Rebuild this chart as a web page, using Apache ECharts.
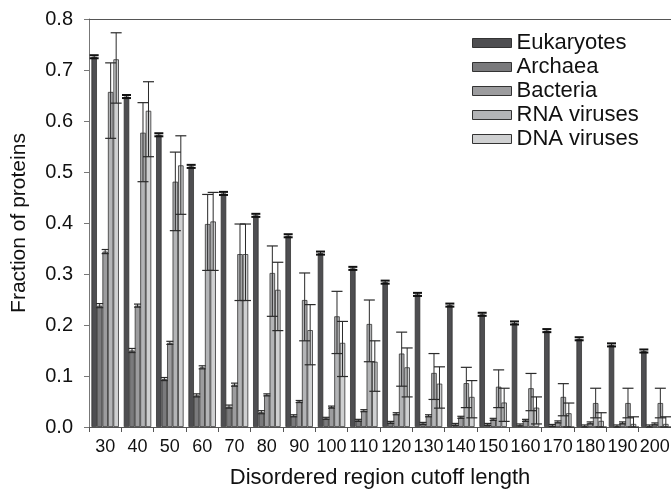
<!DOCTYPE html>
<html>
<head>
<meta charset="utf-8">
<script src="https://cdn.jsdelivr.net/npm/echarts@6/dist/echarts.min.js"></script>
<style>
html,body{margin:0;padding:0;background:#fff;}
#chart{width:671px;height:489px;}
</style>
</head>
<body>
<div id="chart"></div>
<script>
var categories = ['30','40','50','60','70','80','90','100','110','120','130','140','150','160','170','180','190','200'];
var seriesNames = ['Eukaryotes','Archaea','Bacteria','RNA viruses','DNA viruses'];
var yTicks = [0, 0.1, 0.2, 0.3, 0.4, 0.5, 0.6, 0.7, 0.8];

var eukaryotes = [0.726,0.648,0.573,0.511,0.458,0.415,0.375,0.341,0.311,0.284,0.260,0.239,0.221,0.204,0.189,0.173,0.161,0.149];
var archaea    = [0.238,0.150,0.094,0.062,0.040,0.029,0.022,0.017,0.013,0.009,0.007,0.005,0.005,0.004,0.003,0.002,0.002,0.002];
var bacteria   = [0.344,0.238,0.165,0.117,0.083,0.063,0.050,0.039,0.032,0.026,0.022,0.019,0.015,0.013,0.010,0.008,0.008,0.006];
var rnaViruses = [0.657,0.577,0.481,0.398,0.339,0.302,0.249,0.217,0.202,0.144,0.106,0.086,0.079,0.076,0.059,0.047,0.047,0.047];
var dnaViruses = [0.721,0.620,0.513,0.403,0.339,0.269,0.190,0.165,0.128,0.117,0.085,0.059,0.048,0.038,0.027,0.012,0.006,0.006];

// error bar ends (upper / lower)
var eukErr  = [0.003,0.003,0.003,0.003,0.003,0.003,0.003,0.003,0.003,0.003,0.003,0.003,0.003,0.003,0.003,0.003,0.003,0.003];
var archErr = [0.004,0.004,0.003,0.003,0.003,0.003,0.002,0.002,0.002,0.002,0.002,0.002,0.002,0.002,0.002,0.002,0.002,0.002];
var bactErr = [0.004,0.003,0.003,0.003,0.003,0.002,0.002,0.002,0.002,0.002,0.002,0.002,0.002,0.002,0.002,0.002,0.002,0.002];
var rnaUpper = [0.714,0.636,0.539,0.456,0.398,0.355,0.302,0.266,0.249,0.186,0.144,0.117,0.112,0.105,0.085,0.076,0.076,0.076];
var rnaLower = [0.566,0.481,0.385,0.307,0.248,0.217,0.169,0.144,0.128,0.080,0.054,0.038,0.038,0.032,0.022,0.018,0.018,0.018];
var dnaUpper = [0.773,0.677,0.571,0.460,0.398,0.323,0.240,0.207,0.169,0.155,0.118,0.091,0.076,0.059,0.047,0.028,0.020,0.020];
var dnaLower = [0.635,0.530,0.417,0.307,0.248,0.189,0.122,0.099,0.070,0.059,0.037,0.018,0.011,0.006,0.000,0.000,0.000,0.000];

var colors = ['#4e4e51','#7a7a7c','#9c9c9e','#b3b4b6','#cfd0d1'];
var FONT = 'Liberation Sans, Arial, Helvetica, sans-serif';
var GAP = 0.15;

var values = [eukaryotes, archaea, bacteria, rnaViruses, dnaViruses];
var errs = [
  eukaryotes.map(function(v,i){return [i, v - eukErr[i], v + eukErr[i]];}),
  archaea.map(function(v,i){return [i, v - archErr[i], v + archErr[i]];}),
  bacteria.map(function(v,i){return [i, v - bactErr[i], v + bactErr[i]];}),
  rnaViruses.map(function(v,i){return [i, rnaLower[i], rnaUpper[i]];}),
  dnaViruses.map(function(v,i){return [i, dnaLower[i], dnaUpper[i]];})
];

function makeErrRender(k){
  return function(params, api){
    var idx = api.value(0);
    var lo = api.coord([idx, api.value(1)]);
    var hi = api.coord([idx, api.value(2)]);
    var band = api.size([1,0])[0];
    var bw = band*(1-GAP)/5;
    var x = lo[0] - band*(1-GAP)/2 + bw*(k+0.5);
    var half = k === 0 ? 4.5 : (k < 3 ? 3.5 : 5.5);
    var lw = k === 0 ? 2 : 1.2;
    var col = k === 0 ? '#111' : '#2a2a2a';
    var style = {stroke: col, lineWidth: lw};
    return {type:'group', children:[
      {type:'line', shape:{x1:x, y1:lo[1], x2:x, y2:hi[1]}, style:{stroke:'#2a2a2a', lineWidth:1}},
      {type:'line', shape:{x1:x-half, y1:hi[1], x2:x+half, y2:hi[1]}, style:style},
      {type:'line', shape:{x1:x-half, y1:lo[1], x2:x+half, y2:lo[1]}, style:style}
    ]};
  };
}

var series = [];
for (var k=0;k<5;k++){
  series.push({
    name: seriesNames[k], type:'bar', data: values[k],
    barGap: '0%', barCategoryGap: (GAP*100)+'%',
    itemStyle:{color: colors[k], borderColor:'#333', borderWidth:0.8},
    emphasis:{disabled:true}, z:2
  });
}
for (var k2=0;k2<5;k2++){
  series.push({
    type:'custom', data: errs[k2], renderItem: makeErrRender(k2),
    encode:{x:0, y:[1,2]}, z:5, silent:true
  });
}

var chart = echarts.init(document.getElementById('chart'), null, {renderer:'canvas'});
chart.setOption({
  animation:false,
  backgroundColor:'#fff',
  grid:{left:89, right:0, top:19, bottom:62, containLabel:false, outerBoundsMode:'none'},
  legend:{
    data: seriesNames, orient:'vertical', left:467, top:27,
    itemWidth:39, itemHeight:9, itemGap:2, icon:'rect',
    itemStyle:{borderColor:'#333', borderWidth:1},
    textStyle:{fontFamily:FONT, fontSize:22, color:'#111', padding:[0,0,0,0]}
  },
  xAxis:[{
    type:'category', data: categories, position:'bottom',
    name:'Disordered region cutoff length', nameLocation:'middle', nameGap:40,
    nameTextStyle:{fontFamily:FONT, fontSize:22, color:'#111'},
    axisLine:{lineStyle:{color:'#555', width:1}},
    axisTick:{show:true, length:5, lineStyle:{color:'#555'}},
    axisLabel:{interval:0, fontFamily:FONT, fontSize:18, color:'#111', margin:11}
  },{
    type:'category', data: categories, position:'top',
    axisLine:{show:true, lineStyle:{color:'#555', width:1}},
    axisTick:{show:false}, axisLabel:{show:false}
  }],
  yAxis:{
    type:'value', min:0, max:0.8, interval:0.1,
    name:'Fraction of proteins', nameLocation:'middle', nameGap:59, nameRotate:90,
    nameTextStyle:{fontFamily:FONT, fontSize:21, color:'#111'},
    axisLine:{show:true, lineStyle:{color:'#777', width:1}},
    axisTick:{show:true, length:5, lineStyle:{color:'#777'}},
    splitLine:{show:false},
    axisLabel:{fontFamily:FONT, fontSize:20, color:'#111', margin:16,
      formatter:function(v){return v.toFixed(1);}}
  },
  series: series
});
</script>
</body>
</html>
